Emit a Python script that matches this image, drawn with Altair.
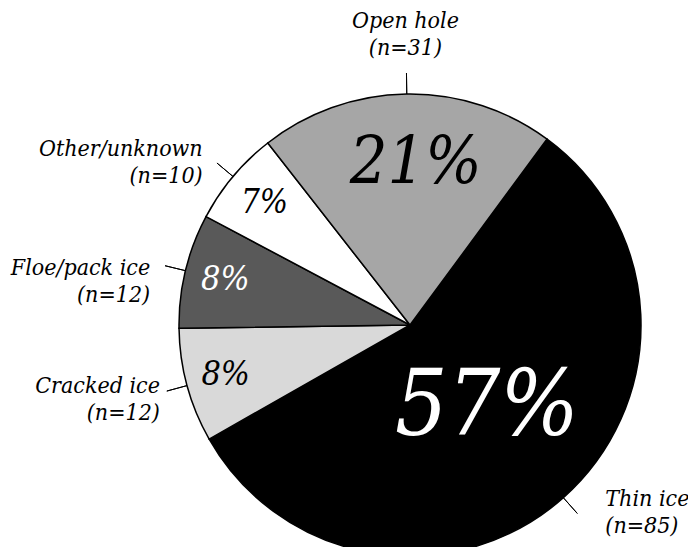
import math
import altair as alt
import pandas as pd

# ---- data ----
categories = ["Thin ice", "Cracked ice", "Floe/pack ice", "Other/unknown", "Open hole"]
counts = [85, 12, 12, 10, 31]

total = sum(counts)
df = pd.DataFrame({
    "order": list(range(len(categories))),
    "category": categories,
    "n": counts,
    "pct": [f"{round(100 * c / total)}%" for c in counts],
    "label": [f"{c}\n(n={n})" for c, n in zip(categories, counts)],
})

# ---- styles ----
fills = ["#000000", "#d9d9d9", "#595959", "#ffffff", "#a6a6a6"]
FONT = "DejaVu Serif Condensed"
CX, CY, R = 402, 317, 231
start = math.radians(36.4)

theta_scale = alt.Scale(domain=[0, total], range=[start, start + 2 * math.pi])

base = alt.Chart(df).transform_window(
    end="sum(n)", sort=[alt.SortField("order")], frame=[None, 0]
).transform_calculate(
    start="datum.end - datum.n",
    mid="datum.end - datum.n / 2",
)

arcs = base.mark_arc(radius=R, stroke="black", strokeWidth=1.5).encode(
    theta=alt.Theta("start:Q", scale=theta_scale),
    theta2="end:Q",
    color=alt.Color("category:N", scale=alt.Scale(domain=categories, range=fills), legend=None),
    x=alt.value(CX),
    y=alt.value(CY),
)

leaders = base.mark_arc(radius=R + 21, radius2=R, stroke="black", strokeWidth=1, fill=None).encode(
    theta=alt.Theta("mid:Q", scale=theta_scale),
    theta2="mid:Q",
    x=alt.value(CX),
    y=alt.value(CY),
)

# (radius, fontSize, colour, dx)
pct_style = {
    "Thin ice": (110, 92, "white", 4),
    "Cracked ice": (191, 34, "black", 0),
    "Floe/pack ice": (190, 34, "white", 0),
    "Other/unknown": (190, 33, "black", 0),
    "Open hole": (162, 66, "black", 8),
}
LH = 27
# (align, dx, dy)
lab_style = {
    "Open hole": ("center", -1, -36),
    "Other/unknown": ("right", -12, 1),
    "Floe/pack ice": ("right", -12, 16),
    "Cracked ice": ("right", -4, 8),
    "Thin ice": ("left", 26, -3),
}

layers = [arcs, leaders]
for cat in categories:
    rad, fs, col, pdx = pct_style[cat]
    al, dx, dy = lab_style[cat]
    sub = base.transform_filter(alt.datum.category == cat)
    layers.append(
        sub.mark_text(
            radius=rad, fontSize=fs, color=col, font=FONT, fontStyle="italic",
            align="center", baseline="middle", dx=pdx,
        ).encode(
            theta=alt.Theta("mid:Q", scale=theta_scale),
            text="pct:N",
            x=alt.value(CX),
            y=alt.value(CY),
        )
    )
    layers.append(
        sub.mark_text(
            radius=R + 24, fontSize=23, color="black", font=FONT, fontStyle="italic",
            align=al, baseline="middle", lineBreak="\n", lineHeight=LH,
            dx=dx, dy=dy - LH / 2,
        ).encode(
            theta=alt.Theta("mid:Q", scale=theta_scale),
            text="label:N",
            x=alt.value(CX),
            y=alt.value(CY),
        )
    )

chart = alt.layer(*layers).properties(
    width=680, height=539, autosize="none", padding=0
).configure_view(stroke=None)

chart.save("out.html", embed_options={"renderer": "svg", "actions": False})
